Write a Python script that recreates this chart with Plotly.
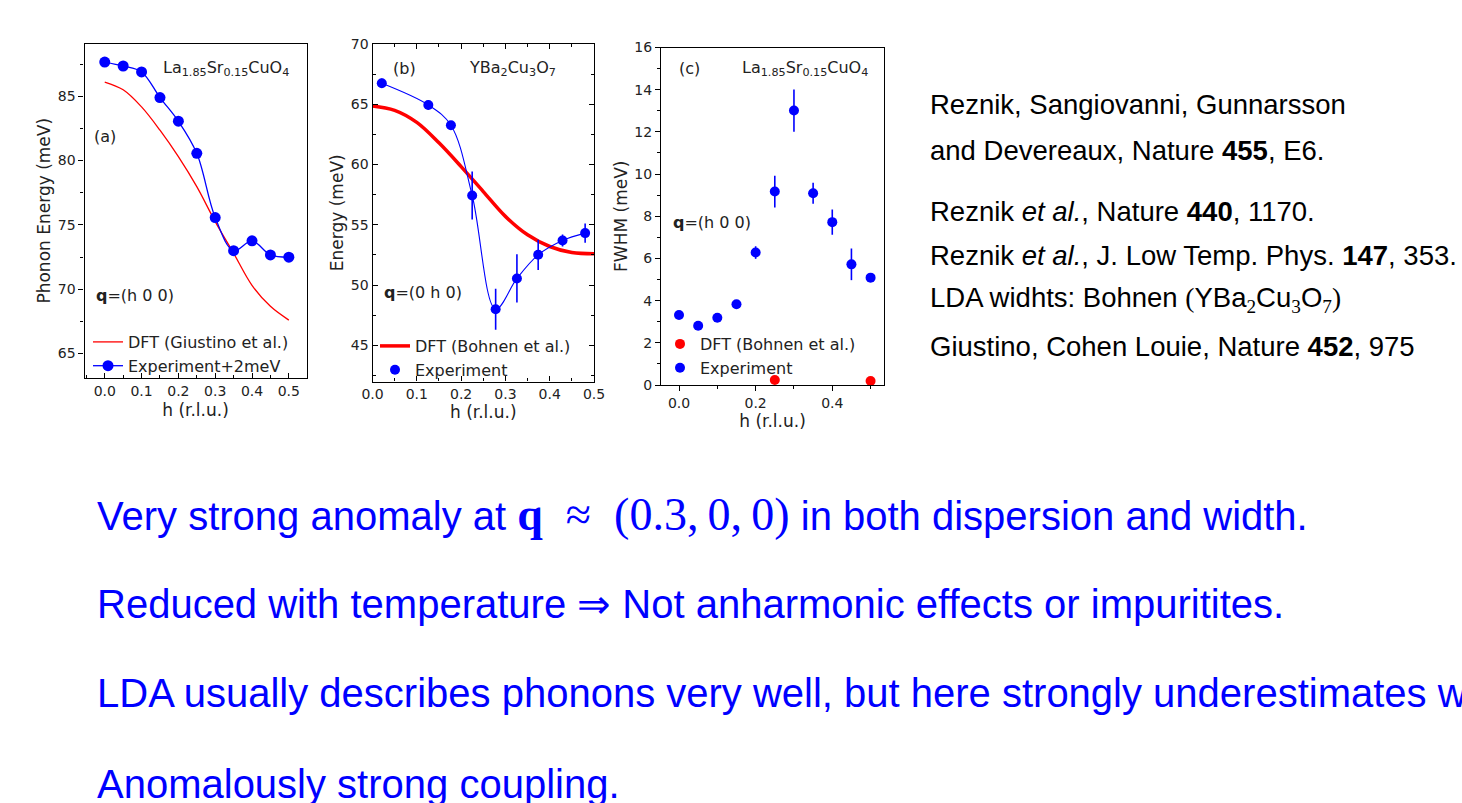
import plotly.graph_objects as go

W, H = 1462, 803

SANS = "Liberation Sans, Arial, sans-serif"
PLOTFONT = "DejaVu Sans, sans-serif"
BLUE = "#0000ff"
RED = "#ff0000"
INK = "#222222"

# ---- (a) La1.85Sr0.15CuO4, q = (h 0 0): dispersion ----
h_dft_a = [0.0, 0.05, 0.10, 0.15, 0.20, 0.25, 0.30, 0.35, 0.40, 0.45, 0.50]
e_dft_a = [86.1, 85.5, 84.17, 82.36, 80.3, 77.97, 75.26, 72.8, 70.3, 68.67, 67.6]
h_exp_a = [0.0, 0.05, 0.10, 0.15, 0.20, 0.25, 0.30, 0.35, 0.40, 0.45, 0.50]
e_exp_a = [87.66, 87.35, 86.89, 84.9, 83.06, 80.56, 75.57, 73.0, 73.76, 72.67, 72.49]

# ---- (b) YBa2Cu3O7, q = (0 h 0): dispersion ----
h_dft_b = [0.0, 0.05, 0.10, 0.15, 0.20, 0.25, 0.30, 0.35, 0.40, 0.45, 0.50]
e_dft_b = [64.86, 64.5, 63.5, 61.8, 59.83, 57.76, 55.7, 54.17, 53.2, 52.7, 52.6]
h_exp_b = [0.021, 0.126, 0.177, 0.225, 0.278, 0.326, 0.374, 0.429, 0.480]
e_exp_b = [66.74, 64.94, 63.26, 57.43, 48.0, 50.55, 52.51, 53.7, 54.31]
err_exp_b = [0.4, 0.4, 0.35, 2.0, 1.7, 2.0, 1.25, 0.5, 0.8]

# ---- (c) La1.85Sr0.15CuO4, q = (h 0 0): linewidth ----
h_exp_c = [0.0, 0.05, 0.10, 0.15, 0.20, 0.25, 0.30, 0.35, 0.40, 0.45, 0.50]
w_exp_c = [3.32, 2.81, 3.19, 3.83, 6.28, 9.17, 13.01, 9.09, 7.72, 5.72, 5.09]
err_exp_c = [0.0, 0.0, 0.0, 0.0, 0.3, 0.75, 1.0, 0.5, 0.6, 0.75, 0.15]
h_dft_c = [0.25, 0.50]
w_dft_c = [0.24, 0.19]

# tick labels
hticks_01 = [0.0, 0.1, 0.2, 0.3, 0.4, 0.5]
hticks_02 = [0.0, 0.2, 0.4]

# axis ranges
range_xa, range_ya = [-0.055, 0.548], [63.1, 89.1]
range_xb, range_yb = [0.0, 0.5], [42, 70]
range_xc, range_yc = [-0.047, 0.535], [0, 16]


def px(x):
    return x / W


def py(y):
    return 1 - y / H


fig = go.Figure()

# (a)
fig.add_trace(go.Scatter(
    x=h_dft_a, y=e_dft_a, xaxis="x", yaxis="y", mode="lines",
    line=dict(color=RED, width=1.3, shape="spline"),
    name="DFT (Giustino et al.)", legend="legend"))
fig.add_trace(go.Scatter(
    x=h_exp_a, y=e_exp_a, xaxis="x", yaxis="y", mode="lines+markers",
    line=dict(color=BLUE, width=1.3, shape="spline"),
    marker=dict(color=BLUE, size=11),
    name="Experiment+2meV", legend="legend"))

# (b)
fig.add_trace(go.Scatter(
    x=h_dft_b, y=e_dft_b, xaxis="x2", yaxis="y2", mode="lines",
    line=dict(color=RED, width=3.5, shape="spline"),
    name="DFT (Bohnen et al.)", legend="legend2"))
fig.add_trace(go.Scatter(
    x=h_exp_b, y=e_exp_b, xaxis="x2", yaxis="y2", mode="lines",
    line=dict(color=BLUE, width=1.1, shape="spline"),
    showlegend=False, hoverinfo="skip"))
fig.add_trace(go.Scatter(
    x=h_exp_b, y=e_exp_b, xaxis="x2", yaxis="y2", mode="markers",
    marker=dict(color=BLUE, size=10),
    error_y=dict(type="data", array=err_exp_b, color=BLUE, thickness=1.6, width=0),
    name="Experiment", legend="legend2"))

# (c)
fig.add_trace(go.Scatter(
    x=h_dft_c, y=w_dft_c, xaxis="x3", yaxis="y3", mode="markers",
    marker=dict(color=RED, size=10),
    name="DFT (Bohnen et al.)", legend="legend3"))
fig.add_trace(go.Scatter(
    x=h_exp_c, y=w_exp_c, xaxis="x3", yaxis="y3", mode="markers",
    marker=dict(color=BLUE, size=10),
    error_y=dict(type="data", array=err_exp_c, color=BLUE, thickness=1.6, width=0),
    name="Experiment", legend="legend3"))

tickfont = dict(family=PLOTFONT, size=14, color=INK)
titlefont = dict(family=PLOTFONT, size=17, color=INK)


def xaxis(domain, anchor, rng, tickvals, ticks, minor_dtick, mirror=True, standoff=2):
    return dict(
        domain=domain, anchor=anchor, range=rng, tickvals=tickvals,
        ticktext=[f"{v:.1f}" for v in tickvals],
        ticks=ticks, ticklen=5, tickwidth=1.2, tickcolor="black",
        minor=dict(dtick=minor_dtick, tick0=0, ticks=ticks, ticklen=3,
                   tickwidth=1, tickcolor="black", showgrid=False),
        showline=True, linecolor="black", linewidth=1.3, mirror=mirror,
        showgrid=False, zeroline=False, tickfont=tickfont, automargin=False,
        title=dict(text="h (r.l.u.)", font=titlefont, standoff=standoff))


def yaxis(domain, anchor, rng, dtick, tick0, ticks, minor_dtick, title, mirror=True):
    return dict(
        domain=domain, anchor=anchor, range=rng, dtick=dtick, tick0=tick0,
        ticks=ticks, ticklen=5, tickwidth=1.2, tickcolor="black",
        minor=dict(dtick=minor_dtick, tick0=tick0, ticks=ticks, ticklen=3,
                   tickwidth=1, tickcolor="black", showgrid=False),
        showline=True, linecolor="black", linewidth=1.3, mirror=mirror,
        showgrid=False, zeroline=False, tickfont=tickfont, automargin=False,
        title=dict(text=title, font=titlefont, standoff=2))


def right_ticks(overlay, anchor, rng, dtick, tick0, minor_dtick):
    # tick marks only, on the right-hand frame, pointing into the panel
    return dict(
        overlaying=overlay, anchor=anchor, side="right", range=rng,
        dtick=dtick, tick0=tick0, ticks="inside", ticklen=5, tickwidth=1.2,
        tickcolor="black", showticklabels=False, showline=False,
        showgrid=False, zeroline=False, automargin=False,
        minor=dict(dtick=minor_dtick, tick0=tick0, ticks="inside", ticklen=3,
                   tickwidth=1, tickcolor="black", showgrid=False))


legfont = dict(family=PLOTFONT, size=16, color=INK)


def legend(x, y):
    return dict(x=x, y=y, xanchor="left", yanchor="top", bgcolor="rgba(0,0,0,0)",
                borderwidth=0, font=legfont, tracegroupgap=0, itemwidth=30)


fig.update_layout(
    template="none",
    width=W, height=H, margin=dict(l=0, r=0, t=0, b=0, autoexpand=False),
    paper_bgcolor="white", plot_bgcolor="white",
    xaxis=xaxis([px(84.5), px(306.5)], "y", range_xa, hticks_01, "inside", 0.05,
                standoff=6),
    yaxis=yaxis([py(378), py(43.5)], "x", range_ya, 5, 65, "outside", 2.5,
                "Phonon Energy (meV)"),
    yaxis4=right_ticks("y", "x", range_ya, 5, 65, 2.5),
    xaxis2=xaxis([px(372.5), px(594)], "y2", range_xb, hticks_01, "inside", 0.05,
                 mirror="ticks", standoff=3),
    yaxis2=yaxis([py(381.5), py(44)], "x2", range_yb, 5, 45, "inside", 2.5,
                 "Energy (meV)", mirror="ticks"),
    xaxis3=xaxis([px(661), px(884)], "y3", range_xc, hticks_02, "outside", 0.1),
    yaxis3=yaxis([py(385), py(47.5)], "x3", range_yc, 2, 0, "outside", 1, "FWHM (meV)"),
    yaxis5=right_ticks("y3", "x3", range_yc, 2, 0, 1),
    legend=legend(px(88), py(325)),
    legend2=legend(px(375), py(329)),
    legend3=legend(px(660), py(327)),
    showlegend=True,
)

# in-panel labels
panel_labels = [
    (161, 68, "La<sub>1.85</sub>Sr<sub>0.15</sub>CuO<sub>4</sub>"),
    (92, 136, "(a)"),
    (94, 296, "<b>q</b>=(h 0 0)"),
    (391, 68, "(b)"),
    (467, 68, "YBa<sub>2</sub>Cu<sub>3</sub>O<sub>7</sub>"),
    (382, 292, "<b>q</b>=(0 h 0)"),
    (677, 68, "(c)"),
    (740, 68, "La<sub>1.85</sub>Sr<sub>0.15</sub>CuO<sub>4</sub>"),
    (671, 222, "<b>q</b>=(h 0 0)"),
]
for x, y, t in panel_labels:
    fig.add_annotation(x=px(x), y=py(y), xref="paper", yref="paper", text=t,
                       showarrow=False, xanchor="left", yanchor="middle",
                       font=dict(family=PLOTFONT, size=16, color=INK))

# references
SER = "<span style=\"font-family:Liberation Serif\">{}</span>"
refs = [
    (105, "Reznik, Sangiovanni, Gunnarsson"),
    (151, "and Devereaux, Nature <b>455</b>, E6."),
    (212, "Reznik <i>et al.</i>, Nature <b>440</b>, 1170."),
    (256, "Reznik <i>et al.</i>, J. Low Temp. Phys. <b>147</b>, 353."),
    (300, "LDA widhts: Bohnen " + SER.format("(") + "YBa<sub>" + SER.format("2")
          + "</sub>Cu<sub>" + SER.format("3") + "</sub>O<sub>" + SER.format("7")
          + "</sub>" + SER.format(")")),
    (347, "Giustino, Cohen Louie, Nature <b>452</b>, 975"),
]
for y, t in refs:
    fig.add_annotation(x=px(928), y=py(y), xref="paper", yref="paper", text=t,
                       showarrow=False, xanchor="left", yanchor="middle",
                       font=dict(family=SANS, size=27.5, color="black"))

# summary lines
MATH = ("<span style=\"font-family:Liberation Serif;font-size:46px\">"
        "<b>q</b>\u2002\u2248\u2002(0.3,\u20090,\u20090)</span>")
summary = [
    (514, "Very strong anomaly at " + MATH + " in both dispersion and width."),
    (604, "Reduced with temperature \u21d2 Not anharmonic effects or impuritites."),
    (693, "LDA usually describes phonons very well, but here strongly underestimates width."),
    (784, "Anomalously strong coupling."),
]
for y, t in summary:
    fig.add_annotation(x=px(95), y=py(y), xref="paper", yref="paper", text=t,
                       showarrow=False, xanchor="left", yanchor="middle",
                       font=dict(family=SANS, size=40, color=BLUE))

fig.write_html("out.html")
